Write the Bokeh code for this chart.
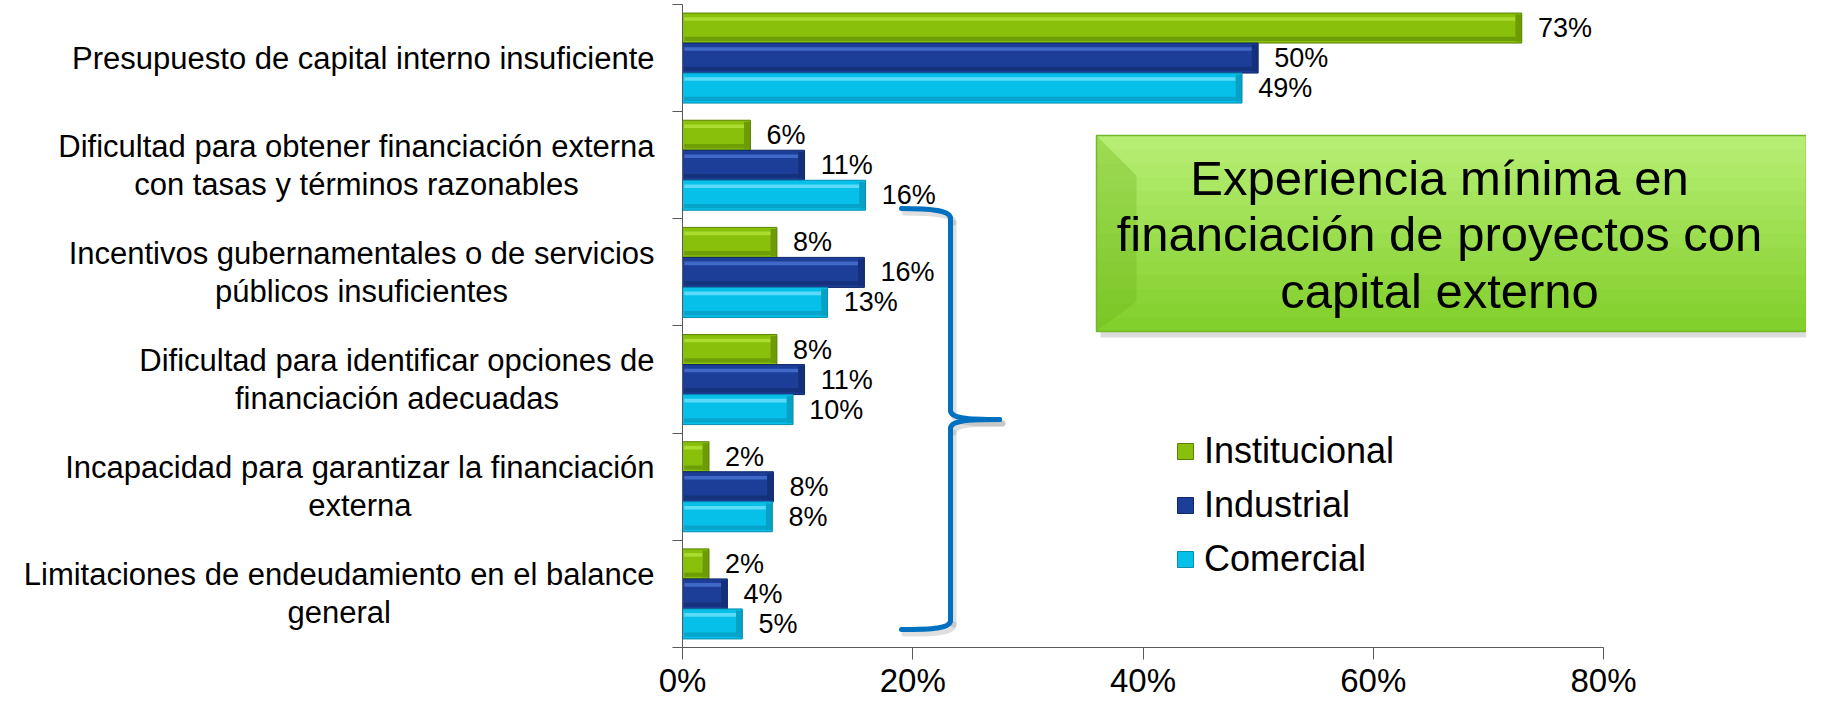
from bokeh.plotting import figure
from bokeh.models import Range1d, LinearAxis, FixedTicker, Legend, LegendItem, ColumnDataSource
from bokeh.core.properties import value
from bokeh.embed import file_html
from bokeh.resources import INLINE

# ---------------- data ----------------
categories = [
    "Presupuesto de capital interno insuficiente",
    "Dificultad para obtener financiación externa\ncon tasas y términos razonables",
    "Incentivos gubernamentales o de servicios\npúblicos insuficientes",
    "Dificultad para identificar opciones de\nfinanciación adecuadas",
    "Incapacidad para garantizar la financiación\nexterna",
    "Limitaciones de endeudamiento en el balance\ngeneral",
]
series_names = ["Institucional", "Industrial", "Comercial"]
institucional = [72.9, 5.9, 8.2, 8.2, 2.3, 2.3]
industrial = [50.0, 10.6, 15.8, 10.6, 7.9, 3.9]
comercial = [48.6, 15.9, 12.6, 9.6, 7.8, 5.2]
x_ticks = [0, 20, 40, 60, 80]
x_tick_labels = {0: "0%", 20: "20%", 40: "40%", 60: "60%", 80: "80%"}
callout_text = "Experiencia mínima en\nfinanciación de proyectos con\ncapital externo"

# ---------------- layout helpers (page pixels -> data) ----------------
FONT = "Liberation Sans"
W, H = 1806, 698
X0_PAGE, PX_X = 690.0, 11.5125     # x=0 at page x 690, px per 1 %
Y0_PAGE, PX_Y = 655.0, 107.17      # y=0 at page y 655, px per category


def sx(page_x):
    return (page_x - X0_PAGE) / PX_X


def sy(page_y):
    return (Y0_PAGE - page_y) / PX_Y


n = len(categories)
p = figure(width=W, height=H, output_backend="svg", toolbar_location=None,
           x_range=Range1d(sx(8), sx(8 + W)), y_range=Range1d(sy(8 + H), sy(8)),
           x_axis_location=None, y_axis_location=None, min_border=0)
p.outline_line_color = None
for g in p.grid:
    g.visible = False
p.background_fill_color = "white"

# ---------------- axes ----------------
xaxis = LinearAxis(fixed_location=0, bounds=(0, 80), ticker=FixedTicker(ticks=x_ticks),
                   major_label_overrides=x_tick_labels,
                   major_tick_out=12, major_tick_in=0, minor_tick_out=0, minor_tick_in=0,
                   axis_line_color="#595959", major_tick_line_color="#595959",
                   major_label_text_font=FONT, major_label_text_font_size="33px",
                   major_label_text_color="black", major_label_standoff=2)
p.add_layout(xaxis, "below")

yaxis = LinearAxis(fixed_location=0, bounds=(0, n), ticker=FixedTicker(ticks=list(range(n + 1))),
                   major_label_overrides={i: "" for i in range(n + 1)},
                   major_tick_out=10, major_tick_in=0, minor_tick_out=0, minor_tick_in=0,
                   axis_line_color="#595959", major_tick_line_color="#595959",
                   major_label_text_font_size="1px")
p.add_layout(yaxis, "left")

# ---------------- bars ----------------
series = [institucional, industrial, comercial]
main_c = ["#88C00C", "#1D3E98", "#06C0EA"]
light_c = ["#ABDC30", "#4068C6", "#5ADBF7"]
dark_c = ["#5A8200", "#0F2868", "#078DAE"]
offsets = [0.28, 0.0, -0.28]
bh = 0.28
renderers = []
for vals, mc, lc, dc, off in zip(series, main_c, light_c, dark_c, offsets):
    ys = [n - i - 0.5 + off for i in range(n)]
    src = ColumnDataSource(dict(
        y=ys, right=vals,
        top_y=[y + bh * 0.30 for y in ys],
        bot_y=[y - bh * 0.36 for y in ys],
        end_l=[v - 0.55 if v > 1.2 else v * 0.6 for v in vals],
        lx=[v + 1.4 for v in vals],
        label=[f"{round(v)}%" for v in vals],
    ))
    r = p.hbar(y="y", left=0, right="right", height=bh, fill_color=mc,
               line_color=dc, line_width=1, source=src)
    p.hbar(y="top_y", left=0.15, right="end_l", height=bh * 0.12, fill_color=lc,
           line_color=None, source=src)
    p.hbar(y="bot_y", left=0.15, right="end_l", height=bh * 0.14, fill_color=dc,
           fill_alpha=0.55, line_color=None, source=src)
    p.hbar(y="y", left="end_l", right="right", height=bh * 0.9, fill_color=dc,
           fill_alpha=0.6, line_color=None, source=src)
    p.text(x="lx", y="y", text="label", text_align="left", text_baseline="middle",
           text_font=value(FONT), text_font_size="27px", text_color="black", source=src)
    renderers.append(r)

# ---------------- category labels (right aligned block, centered lines) ----------------
AW = {' ': 278, 'a': 556, 'b': 556, 'c': 500, 'd': 556, 'e': 556, 'f': 278, 'g': 556, 'h': 556,
      'i': 222, 'j': 222, 'k': 500, 'l': 222, 'm': 833, 'n': 556, 'o': 556, 'p': 556, 'q': 556,
      'r': 333, 's': 500, 't': 278, 'u': 556, 'v': 500, 'w': 722, 'x': 500, 'y': 500, 'z': 500,
      'á': 556, 'é': 556, 'í': 278, 'ó': 556, 'ú': 556, 'ñ': 556,
      'P': 667, 'D': 722, 'I': 278, 'L': 556, 'C': 722, 'E': 667}
CAT_FS = 31


def text_w(s, fs):
    return sum(AW.get(ch, 556) for ch in s) / 1000.0 * fs


cx, cy = [], []
for i, lab in enumerate(categories):
    w = max(text_w(line, CAT_FS) for line in lab.split("\n"))
    cx.append(sx(662 - w / 2))
    cy.append(n - i - 0.5)
p.text(x=cx, y=cy, text=categories, text_align="center", text_baseline="middle",
       text_font=value(FONT), text_font_size=f"{CAT_FS}px", text_color="black",
       text_line_height=1.09)

# ---------------- callout box ----------------
bx0, bx1, by0, by1 = 1104, 1814, 143, 339
p.quad(left=sx(bx0 + 4), right=sx(bx1 + 6), top=sy(by0 + 6), bottom=sy(by1 + 6),
       fill_color="#9a9a9a", fill_alpha=0.35, line_color=None)
nb = 14
c_top = (0xB6, 0xEE, 0x74)
c_bot = (0x82, 0xD0, 0x2C)
for k in range(nb):
    t = k / (nb - 1)
    col = "#%02X%02X%02X" % tuple(int(a + (b - a) * t) for a, b in zip(c_top, c_bot))
    t0 = by0 + (by1 - by0) * k / nb
    t1 = by0 + (by1 - by0) * (k + 1) / nb
    p.quad(left=sx(bx0), right=sx(bx1), top=sy(t0), bottom=sy(t1 + 0.6),
           fill_color=col, line_color=None)
p.quad(left=sx(bx0), right=sx(bx1), top=sy(by0), bottom=sy(by1),
       fill_color=None, line_color="#74B82A", line_width=1.5)
p.patch(x=[sx(bx0), sx(bx0 + 40), sx(bx0 + 40), sx(bx0)],
        y=[sy(by0), sy(by0 + 40), sy(by1 - 30), sy(by1)],
        fill_color="#6FB81E", fill_alpha=0.35, line_color=None)
p.text(x=[sx(1447)], y=[sy(242)], text=[callout_text], text_align="center",
       text_baseline="middle", text_font=value(FONT), text_font_size="49px",
       text_color="black", text_line_height=1.05)

# ---------------- brace ----------------
curves = [
    ((909, 216), (940, 216), (958, 218), (958, 226)),
    ((958, 418), (958, 426), (975, 427), (1007, 427)),
    ((1007, 427), (975, 427), (958, 428), (958, 436)),
    ((958, 628), (958, 636), (940, 637), (909, 637)),
]
lines = [((958, 226), (958, 418)), ((958, 436), (958, 628))]
for dx, dy, col, alpha, lw in [(3, 4, "#808080", 0.25, 6), (0, 0, "#0070C0", 1.0, 5)]:
    p.bezier(x0=[sx(c[0][0] + dx) for c in curves], y0=[sy(c[0][1] + dy) for c in curves],
             cx0=[sx(c[1][0] + dx) for c in curves], cy0=[sy(c[1][1] + dy) for c in curves],
             cx1=[sx(c[2][0] + dx) for c in curves], cy1=[sy(c[2][1] + dy) for c in curves],
             x1=[sx(c[3][0] + dx) for c in curves], y1=[sy(c[3][1] + dy) for c in curves],
             line_color=col, line_alpha=alpha, line_width=lw, line_cap="round")
    p.segment(x0=[sx(a[0] + dx) for a, b in lines], y0=[sy(a[1] + dy) for a, b in lines],
              x1=[sx(b[0] + dx) for a, b in lines], y1=[sy(b[1] + dy) for a, b in lines],
              line_color=col, line_alpha=alpha, line_width=lw, line_cap="round")

# ---------------- legend ----------------
# location = bottom-left corner of the legend, in px from the frame's bottom-left
legend = Legend(items=[LegendItem(label=nm, renderers=[r]) for nm, r in zip(series_names, renderers)],
                location=(1175, 706 - 588), orientation="vertical",
                glyph_width=20, glyph_height=20, label_standoff=9, spacing=12,
                label_text_font=FONT, label_text_font_size="36px", label_height=20,
                label_text_color="black",
                padding=0, margin=0, border_line_color=None, background_fill_alpha=0)
p.add_layout(legend, "center")

open("out.html", "w").write(file_html(p, INLINE))
